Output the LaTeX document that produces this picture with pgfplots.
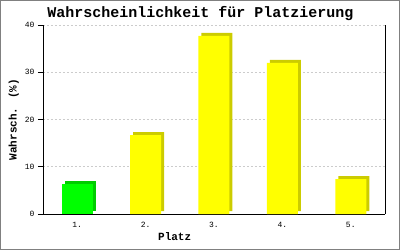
\documentclass[border=0pt]{standalone}
\usepackage{pgfplots}
\pgfplotsset{compat=1.18}
\usepackage{fontspec}
\setmainfont{Liberation Mono}
\definecolor{frontY}{RGB}{255,255,0}
\definecolor{sideY}{RGB}{204,204,0}
\definecolor{frontG}{RGB}{0,255,0}
\definecolor{sideG}{RGB}{0,204,0}
\begin{document}
\begin{tikzpicture}[x=1pt,y=1pt]
\useasboundingbox (0,0) rectangle (400,250);
\begin{axis}[
  at={(43pt,36pt)}, anchor=south west,
  scale only axis, width=342pt, height=189pt,
  ybar, bar width=31pt,
  xmin=0.5, xmax=5.5, ymin=0, ymax=40,
  xtick={1,2,3,4,5}, xticklabels={1.,2.,3.,4.,5.},
  ytick={0,10,20,30,40},
  major x tick style={draw=none},
  major tick length=5pt,
  tick align=outside,
  ytick style={black, line width=0.8pt},
  axis x line*=bottom,
  axis y line*=left,
  axis line style={line width=0.8pt},
  ymajorgrids,
  grid style={gray!40, dash pattern=on 2pt off 2pt, line width=0.6pt},
  tick label style={font=\fontsize{8}{9}\selectfont},
  /pgf/number format/assume math mode=true,
  title={\bfseries Wahrscheinlichkeit für Platzierung},
  title style={font=\fontsize{15}{16}\selectfont\bfseries, at={(0.46,1)}, yshift=-5pt},
  xlabel={\bfseries Platz},
  ylabel={\bfseries Wahrsch. (\%)},
  label style={font=\fontsize{11}{12}\selectfont\bfseries},
  xlabel style={at={(0.385,0)}, anchor=north, yshift=-15pt},
  ylabel style={yshift=-1pt},
  clip=false,
]
\addplot[draw=none, fill=sideG, bar shift=3pt, yshift=3pt] coordinates {(1,6.4)};
\addplot[draw=none, fill=sideY, bar shift=3pt, yshift=3pt] coordinates {(2,16.7) (3,37.7) (4,32.0) (5,7.4)};
\addplot[draw=none, fill=frontG, bar shift=0pt] coordinates {(1,6.4)};
\addplot[draw=none, fill=frontY, bar shift=0pt] coordinates {(2,16.7) (3,37.7) (4,32.0) (5,7.4)};
\draw[line width=0.8pt] (axis cs:5.5,0) -- (axis cs:5.5,40);
\end{axis}
\draw[gray, line width=1pt] (0.5,0.5) rectangle (399.5,249.5);
\end{tikzpicture}
\end{document}
